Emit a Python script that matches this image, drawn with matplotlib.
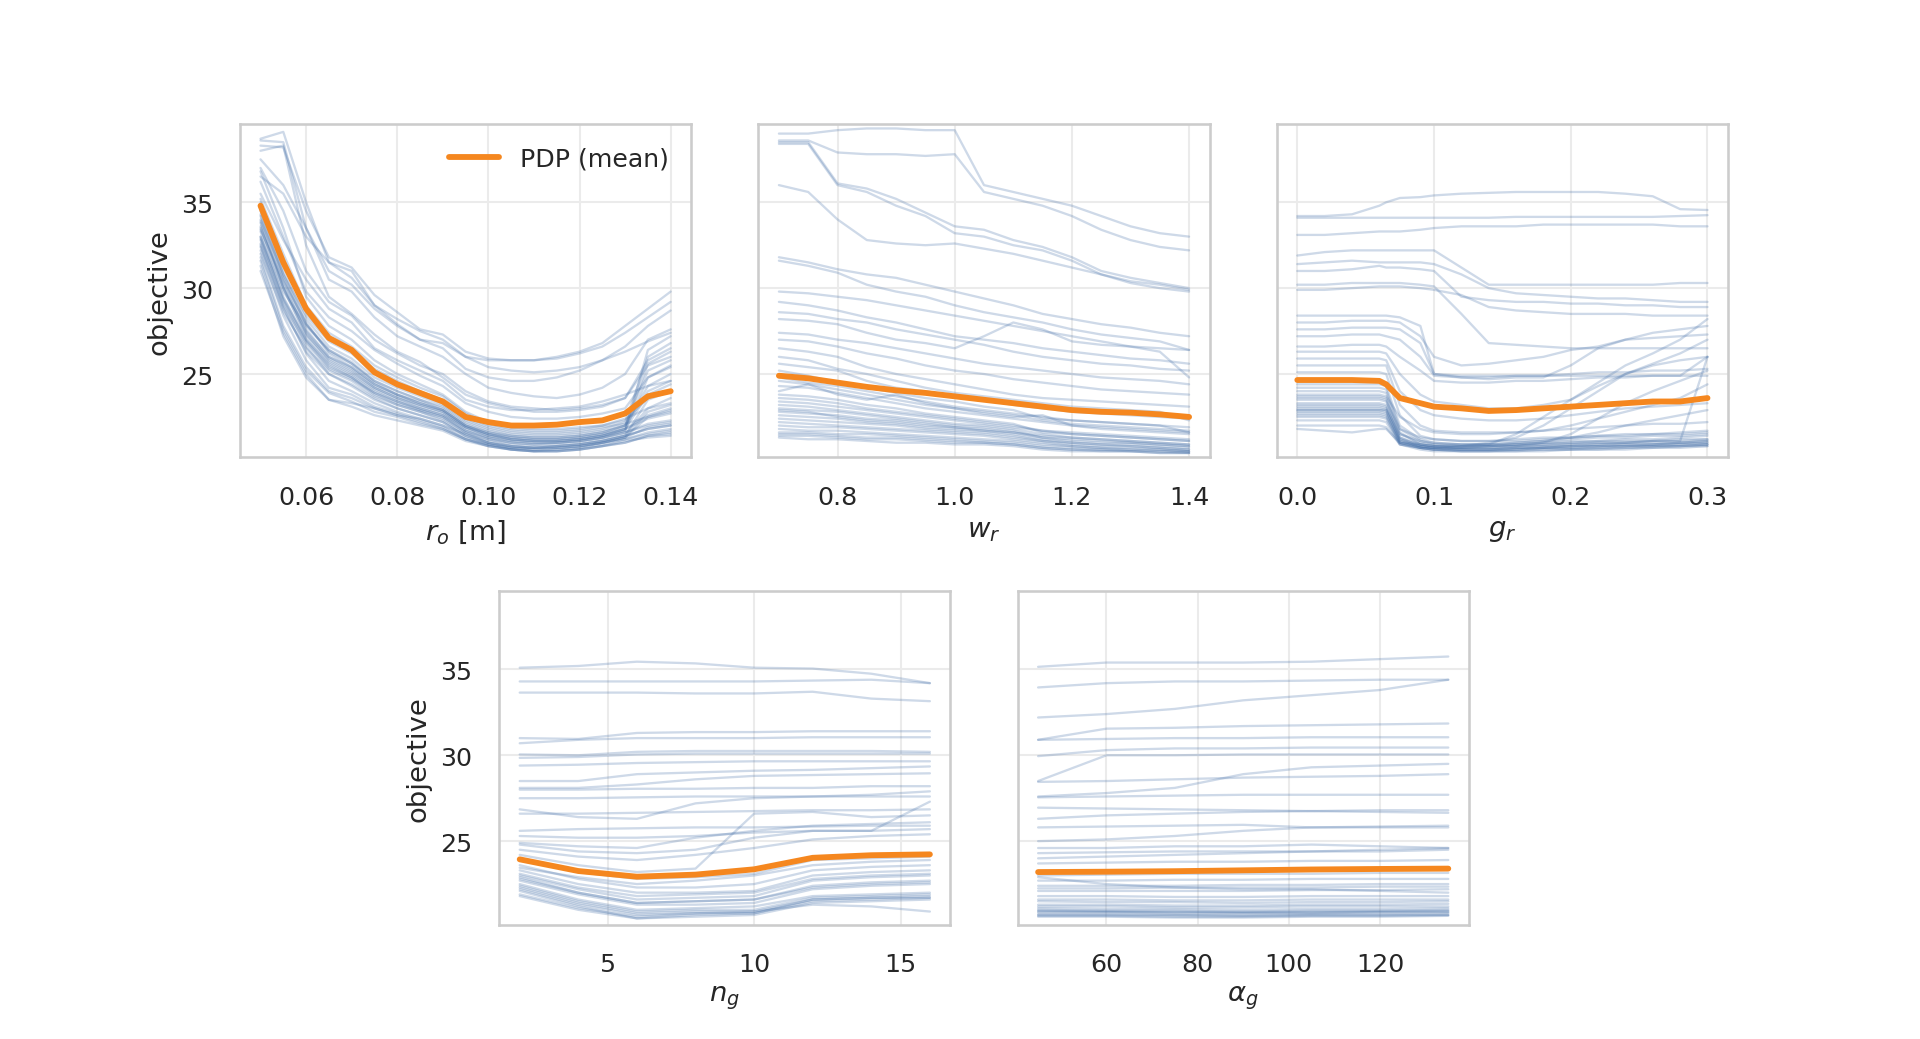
#!/usr/bin/env python3
"""ICE curves + PDP (mean) for five design parameters, shared objective axis."""

import matplotlib
matplotlib.use("Agg")
import matplotlib.pyplot as plt
import seaborn as sns

# --- r_o [m] -----------------------------------------------------------------
R_O_GRID = [0.050, 0.055, 0.060, 0.065, 0.070, 0.075, 0.080, 0.085, 0.090, 0.095,
            0.100, 0.105, 0.110, 0.115, 0.120, 0.125, 0.130, 0.135, 0.140]
R_O_PDP = [34.8, 31.5, 28.8, 27.1, 26.4, 25.1, 24.4, 23.9, 23.4, 22.5,
           22.2, 22.0, 22.0, 22.05, 22.2, 22.3, 22.7, 23.7, 24.0]
R_O_ICE = [
    [38.6, 38.5, 33.5, 30.5, 29.8, 28.3, 27.2, 26.6, 26.0, 25.0, 24.2, 23.9, 23.7, 23.6, 23.8, 24.2, 25.0, 27.0, 27.6],
    [38.3, 38.2, 34.5, 31.8, 31.2, 29.6, 28.6, 27.6, 27.3, 26.3, 25.9, 25.8, 25.8, 26.0, 26.3, 26.8, 27.8, 28.8, 29.8],
    [38.0, 38.3, 32.5, 29.5, 28.5, 27.3, 26.3, 25.7, 24.8, 23.8, 23.3, 23.0, 22.8, 22.8, 22.9, 23.1, 23.6, 25.8, 26.5],
    [38.7, 39.1, 35.0, 31.5, 30.6, 29.0, 27.9, 27.0, 26.5, 25.3, 24.8, 24.6, 24.6, 24.8, 25.2, 25.8, 26.6, 27.8, 28.7],
    [37.0, 34.5, 31.0, 29.2, 28.4, 27.0, 26.2, 25.5, 25.0, 24.0, 23.4, 23.1, 23.0, 22.9, 23.0, 23.2, 23.6, 25.5, 26.0],
    [36.2, 33.0, 29.8, 28.3, 27.5, 26.4, 25.6, 24.9, 24.3, 23.3, 22.8, 22.5, 22.4, 22.4, 22.5, 22.7, 23.0, 24.8, 25.4],
    [35.5, 32.8, 30.5, 28.8, 28.0, 26.5, 25.8, 25.2, 24.6, 23.5, 23.1, 22.9, 22.9, 23.0, 23.1, 23.4, 23.8, 24.3, 24.6],
    [36.8, 33.5, 29.5, 27.8, 27.0, 25.8, 25.0, 24.4, 23.8, 22.8, 22.2, 21.9, 21.8, 21.8, 21.9, 22.0, 22.3, 23.6, 24.0],
    [35.0, 31.5, 28.6, 27.0, 26.3, 25.3, 24.6, 24.0, 23.5, 22.5, 22.0, 21.7, 21.6, 21.6, 21.7, 21.9, 22.1, 22.5, 22.8],
    [34.2, 30.5, 27.6, 26.0, 25.3, 24.3, 23.7, 23.2, 22.8, 21.9, 21.4, 21.1, 21.0, 21.0, 21.1, 21.3, 21.6, 22.0, 22.2],
    [33.6, 30.0, 27.2, 25.7, 25.0, 24.1, 23.5, 23.0, 22.6, 21.7, 21.2, 20.9, 20.8, 20.8, 20.9, 21.1, 21.4, 23.5, 24.0],
    [33.0, 29.2, 26.6, 25.0, 24.4, 23.6, 23.0, 22.6, 22.2, 21.4, 20.9, 20.6, 20.5, 20.5, 20.6, 20.8, 21.0, 21.4, 21.6],
    [32.6, 28.9, 26.2, 24.6, 24.0, 23.3, 22.8, 22.4, 22.0, 21.3, 20.9, 20.7, 20.6, 20.7, 20.8, 21.0, 21.3, 22.8, 23.2],
    [32.2, 28.4, 25.8, 24.2, 23.8, 23.1, 22.7, 22.3, 21.9, 21.2, 20.8, 20.6, 20.5, 20.6, 20.7, 21.0, 21.2, 21.5, 21.7],
    [31.8, 27.8, 25.4, 24.0, 23.6, 23.0, 22.6, 22.2, 21.8, 21.2, 20.9, 20.7, 20.7, 20.8, 20.9, 21.1, 21.4, 21.8, 22.0],
    [33.3, 29.5, 27.0, 25.5, 24.8, 23.9, 23.4, 23.0, 22.6, 21.9, 21.5, 21.3, 21.2, 21.2, 21.3, 21.5, 21.9, 25.6, 26.3],
    [34.5, 31.0, 28.2, 26.6, 25.9, 24.8, 24.2, 23.7, 23.2, 22.3, 21.8, 21.5, 21.4, 21.4, 21.5, 21.7, 22.0, 24.3, 25.0],
    [32.0, 28.6, 26.5, 25.2, 24.6, 23.7, 23.2, 22.8, 22.4, 21.6, 21.2, 21.0, 20.9, 21.0, 21.1, 21.3, 21.6, 22.1, 22.3],
    [33.8, 30.2, 27.4, 25.8, 25.1, 24.2, 23.6, 23.1, 22.7, 21.8, 21.3, 21.1, 21.0, 21.0, 21.1, 21.3, 21.7, 26.4, 27.2],
    [31.3, 27.2, 24.8, 23.5, 23.1, 22.6, 22.3, 22.0, 21.7, 21.1, 20.8, 20.6, 20.5, 20.5, 20.6, 20.8, 21.1, 21.3, 21.4],
    [34.8, 30.8, 27.9, 26.4, 25.7, 24.6, 24.0, 23.5, 23.0, 22.1, 21.6, 21.3, 21.2, 21.2, 21.3, 21.5, 21.8, 22.4, 22.7],
    [36.5, 35.5, 33.0, 31.5, 31.0, 29.0, 28.2, 27.5, 27.0, 26.0, 25.4, 25.2, 25.1, 25.2, 25.4, 25.8, 26.3, 26.9, 27.4],
    [37.5, 36.0, 33.5, 31.0, 30.2, 28.8, 27.8, 27.0, 26.8, 26.0, 25.8, 25.8, 25.8, 25.9, 26.2, 26.6, 27.4, 28.3, 29.2],
    [31.0, 27.4, 25.0, 23.5, 23.3, 23.0, 22.6, 22.4, 22.0, 21.5, 21.1, 20.8, 20.7, 20.8, 20.9, 21.1, 21.4, 21.8, 22.0],
    [33.0, 29.8, 27.8, 26.4, 25.6, 24.5, 23.8, 23.3, 22.9, 22.0, 21.5, 21.2, 21.1, 21.1, 21.2, 21.4, 21.7, 24.8, 25.5],
    [32.4, 29.0, 26.8, 25.3, 24.7, 23.9, 23.3, 22.9, 22.5, 21.6, 21.0, 20.7, 20.6, 20.6, 20.7, 20.9, 21.2, 21.6, 21.8],
    [35.2, 32.0, 29.0, 27.4, 26.6, 25.5, 24.8, 24.2, 23.7, 22.7, 22.1, 21.8, 21.7, 21.7, 21.8, 22.0, 22.4, 23.0, 23.3],
    [34.0, 30.8, 28.4, 26.9, 26.2, 25.0, 24.4, 23.9, 23.4, 22.4, 21.9, 21.6, 21.5, 21.5, 21.6, 21.8, 22.2, 26.0, 26.8],
    [33.4, 30.4, 28.0, 26.2, 25.4, 24.4, 23.8, 23.3, 22.9, 22.0, 21.6, 21.4, 21.3, 21.3, 21.4, 21.6, 22.0, 24.0, 24.6],
    [32.8, 29.4, 27.0, 25.6, 24.9, 24.0, 23.4, 22.9, 22.5, 21.7, 21.3, 21.0, 20.9, 20.9, 21.0, 21.2, 21.5, 23.0, 23.6],
    [32.9, 29.3, 26.9, 25.4, 24.8, 23.8, 23.2, 22.8, 22.3, 21.5, 21.0, 20.8, 20.7, 20.7, 20.8, 21.0, 21.3, 22.5, 22.9],
    [33.5, 30.1, 27.5, 26.0, 25.4, 24.4, 23.8, 23.4, 22.9, 22.0, 21.5, 21.2, 21.1, 21.1, 21.2, 21.4, 21.8, 23.8, 24.4],
    [32.5, 28.8, 26.3, 25.0, 24.3, 23.5, 23.0, 22.6, 22.2, 21.4, 21.0, 20.8, 20.7, 20.7, 20.8, 21.0, 21.3, 21.9, 22.1],
    [34.3, 30.6, 27.9, 26.3, 25.6, 24.6, 24.0, 23.5, 23.1, 22.2, 21.7, 21.4, 21.3, 21.3, 21.4, 21.6, 22.0, 25.2, 25.8],
    [31.6, 27.6, 25.2, 23.9, 23.4, 22.8, 22.5, 22.1, 21.8, 21.2, 20.8, 20.6, 20.5, 20.5, 20.6, 20.8, 21.0, 21.4, 21.5],
    [33.9, 30.0, 27.3, 25.9, 25.2, 24.2, 23.6, 23.2, 22.8, 21.9, 21.4, 21.2, 21.1, 21.1, 21.2, 21.4, 21.8, 22.6, 23.0],
]

# --- w_r ---------------------------------------------------------------------
W_R_GRID = [0.70, 0.75, 0.80, 0.85, 0.90, 0.95, 1.00, 1.05, 1.10, 1.15, 1.20, 1.25, 1.30, 1.35, 1.40]
W_R_PDP = [24.9, 24.75, 24.5, 24.25, 24.05, 23.9, 23.7, 23.5, 23.3, 23.1, 22.9, 22.8, 22.75, 22.65, 22.5]
W_R_ICE = [
    [39.0, 39.0, 39.2, 39.3, 39.3, 39.2, 39.2, 36.0, 35.6, 35.2, 34.8, 34.2, 33.6, 33.2, 33.0],
    [38.6, 38.6, 37.9, 37.8, 37.8, 37.7, 37.8, 35.6, 35.2, 34.8, 34.2, 33.4, 32.8, 32.4, 32.2],
    [38.5, 38.5, 36.1, 35.8, 35.2, 34.4, 33.6, 33.4, 32.8, 32.4, 31.8, 31.0, 30.6, 30.3, 30.0],
    [38.4, 38.4, 36.0, 35.6, 34.8, 34.2, 33.2, 33.0, 32.5, 32.2, 31.6, 30.8, 30.3, 30.0, 29.8],
    [36.0, 35.6, 34.0, 32.8, 32.6, 32.5, 32.6, 32.3, 32.0, 31.6, 31.2, 30.8, 30.4, 30.2, 29.9],
    [31.8, 31.5, 31.1, 30.8, 30.6, 30.2, 29.8, 29.4, 29.0, 28.5, 28.2, 27.9, 27.7, 27.4, 27.2],
    [31.6, 31.3, 30.9, 30.2, 29.8, 29.5, 29.0, 28.6, 28.3, 28.0, 27.6, 27.3, 27.1, 26.9, 26.4],
    [29.8, 29.7, 29.5, 29.3, 29.0, 28.7, 28.4, 28.1, 27.8, 27.5, 27.2, 26.9, 26.6, 26.3, 24.8],
    [29.2, 29.0, 28.7, 28.3, 28.0, 27.6, 27.2, 27.0, 26.8, 26.5, 26.3, 26.1, 25.9, 25.8, 25.6],
    [28.6, 28.5, 28.2, 28.0, 27.6, 27.3, 27.0, 26.7, 26.3, 26.0, 25.8, 25.6, 25.5, 25.3, 25.2],
    [28.2, 28.1, 27.9, 27.4, 27.0, 26.8, 26.5, 27.2, 28.0, 27.6, 26.9, 26.7, 26.6, 26.5, 26.4],
    [27.4, 27.3, 27.0, 26.8, 26.5, 26.2, 25.9, 25.6, 25.4, 25.2, 25.0, 24.8, 24.7, 24.6, 24.4],
    [27.0, 26.9, 26.6, 26.2, 25.9, 25.5, 25.2, 25.0, 24.7, 24.5, 24.3, 24.1, 24.0, 23.9, 23.8],
    [26.5, 26.3, 26.0, 25.4, 25.0, 24.7, 24.4, 24.1, 23.8, 23.6, 23.5, 23.4, 23.3, 23.2, 23.1],
    [26.0, 25.8, 25.3, 25.0, 24.6, 24.2, 23.9, 23.7, 23.5, 23.3, 23.1, 23.0, 22.9, 22.8, 22.3],
    [25.6, 25.4, 25.2, 24.6, 24.2, 24.0, 23.7, 23.5, 23.2, 23.0, 22.8, 22.7, 22.6, 22.5, 22.4],
    [25.2, 24.9, 24.5, 24.2, 23.9, 23.6, 23.4, 23.1, 22.9, 22.4, 22.3, 22.2, 22.1, 22.0, 21.9],
    [24.8, 24.5, 24.3, 24.0, 23.7, 23.4, 23.1, 22.9, 22.7, 22.5, 22.3, 22.2, 22.1, 22.0, 21.6],
    [24.3, 24.2, 23.9, 23.6, 23.3, 23.0, 22.8, 22.6, 22.4, 22.2, 22.0, 21.9, 21.8, 21.7, 21.6],
    [23.8, 23.7, 23.5, 23.2, 23.0, 22.7, 22.5, 22.3, 22.1, 21.6, 21.5, 21.4, 21.3, 21.2, 21.1],
    [23.4, 23.3, 23.1, 22.9, 22.7, 22.5, 22.3, 22.1, 21.9, 21.7, 21.6, 21.5, 21.4, 21.3, 21.2],
    [23.0, 22.9, 22.8, 22.6, 22.4, 22.2, 22.0, 21.9, 21.7, 21.3, 21.1, 21.0, 21.0, 20.9, 20.8],
    [22.6, 22.5, 22.4, 22.2, 22.1, 21.9, 21.8, 21.7, 21.5, 21.2, 21.0, 20.9, 20.9, 20.8, 20.7],
    [22.2, 22.1, 22.0, 21.9, 21.8, 21.7, 21.6, 21.5, 21.3, 21.1, 20.9, 20.8, 20.8, 20.7, 20.6],
    [21.8, 21.7, 21.7, 21.6, 21.5, 21.4, 21.3, 21.2, 21.1, 20.9, 20.8, 20.7, 20.7, 20.6, 20.5],
    [21.5, 21.5, 21.4, 21.3, 21.3, 21.2, 21.1, 21.0, 20.9, 20.7, 20.6, 20.6, 20.5, 20.5, 20.4],
    [21.3, 21.2, 21.2, 21.1, 21.0, 21.0, 20.9, 20.9, 20.8, 20.6, 20.5, 20.5, 20.5, 20.4, 20.4],
    [24.0, 24.4, 23.8, 23.5, 23.8, 23.3, 23.0, 22.7, 22.5, 22.6, 22.0, 21.8, 21.7, 21.6, 21.5],
    [22.9, 22.8, 22.5, 22.3, 22.2, 22.0, 21.9, 21.7, 21.6, 21.4, 21.3, 21.2, 21.1, 21.0, 20.9],
    [22.0, 21.9, 21.9, 21.8, 21.7, 21.6, 21.5, 21.4, 21.2, 21.0, 20.8, 20.7, 20.6, 20.6, 20.5],
    [23.2, 23.1, 22.9, 22.7, 22.5, 22.3, 22.1, 22.0, 21.8, 21.5, 21.3, 21.2, 21.1, 21.0, 20.9],
    [23.6, 23.5, 23.3, 23.0, 22.8, 22.6, 22.4, 22.2, 22.0, 21.7, 21.5, 21.4, 21.3, 21.2, 21.1],
    [22.4, 22.3, 22.2, 22.1, 22.0, 21.8, 21.7, 21.6, 21.4, 21.1, 21.0, 20.9, 20.8, 20.7, 20.6],
    [21.6, 21.6, 21.5, 21.5, 21.4, 21.3, 21.2, 21.1, 21.0, 20.8, 20.7, 20.6, 20.6, 20.5, 20.5],
    [24.6, 24.4, 24.1, 23.8, 23.5, 23.2, 23.0, 22.8, 22.6, 22.3, 22.1, 22.0, 21.9, 21.8, 21.7],
    [22.8, 22.7, 22.6, 22.4, 22.3, 22.1, 21.9, 21.8, 21.6, 21.3, 21.2, 21.1, 21.0, 20.9, 20.8],
    [21.4, 21.4, 21.3, 21.2, 21.2, 21.1, 21.0, 21.0, 20.9, 20.7, 20.6, 20.5, 20.5, 20.4, 20.4],
]

# --- g_r ---------------------------------------------------------------------
G_R_GRID = [0.0, 0.02, 0.04, 0.06, 0.065, 0.075, 0.09, 0.10, 0.12, 0.14,
            0.16, 0.18, 0.20, 0.22, 0.24, 0.26, 0.28, 0.30]
G_R_PDP = [24.65, 24.65, 24.65, 24.6, 24.4, 23.6, 23.3, 23.1, 23.0, 22.85,
           22.9, 23.0, 23.1, 23.2, 23.3, 23.4, 23.4, 23.6]
G_R_ICE = [
    [34.2, 34.2, 34.3, 34.8, 35.0, 35.25, 35.3, 35.4, 35.5, 35.55, 35.6, 35.6, 35.6, 35.6, 35.5, 35.35, 34.6, 34.55],
    [34.1, 34.1, 34.1, 34.1, 34.1, 34.1, 34.1, 34.1, 34.1, 34.1, 34.15, 34.15, 34.15, 34.15, 34.15, 34.15, 34.2, 34.25],
    [33.1, 33.1, 33.2, 33.3, 33.3, 33.3, 33.4, 33.5, 33.6, 33.6, 33.6, 33.7, 33.7, 33.7, 33.7, 33.7, 33.6, 33.6],
    [31.9, 32.1, 32.2, 32.2, 32.2, 32.2, 32.2, 32.2, 31.2, 30.2, 30.2, 30.2, 30.2, 30.2, 30.2, 30.2, 30.3, 30.3],
    [31.4, 31.5, 31.6, 31.5, 31.5, 31.5, 31.5, 31.4, 30.8, 30.0, 29.7, 29.6, 29.5, 29.4, 29.4, 29.3, 29.2, 29.2],
    [31.0, 31.0, 31.1, 31.3, 31.2, 31.2, 31.1, 31.0, 29.5, 29.3, 29.2, 29.2, 29.1, 29.1, 29.0, 29.0, 28.9, 28.9],
    [30.2, 30.2, 30.3, 30.3, 30.3, 30.3, 30.2, 30.1, 28.5, 26.8, 26.7, 26.6, 26.5, 26.5, 26.5, 26.5, 26.5, 26.5],
    [29.9, 29.9, 30.0, 30.1, 30.1, 30.1, 30.0, 29.9, 29.6, 28.9, 28.7, 28.6, 28.5, 28.5, 28.5, 28.4, 28.4, 28.4],
    [28.4, 28.4, 28.4, 28.4, 28.4, 28.3, 27.8, 25.0, 24.9, 24.9, 24.9, 24.9, 24.9, 24.9, 24.9, 24.9, 24.9, 24.9],
    [28.0, 28.0, 28.1, 28.1, 28.1, 28.0, 27.2, 26.0, 25.5, 25.6, 25.8, 26.0, 26.4, 26.6, 27.0, 27.4, 27.6, 27.8],
    [27.6, 27.6, 27.7, 27.7, 27.7, 27.6, 26.8, 25.0, 24.8, 24.8, 24.9, 24.9, 25.0, 25.1, 25.1, 25.2, 25.2, 25.3],
    [27.2, 27.2, 27.3, 27.3, 27.2, 27.0, 26.0, 24.9, 24.8, 24.7, 24.8, 24.8, 25.5, 26.5, 27.0, 27.1, 27.2, 27.3],
    [26.6, 26.6, 26.7, 26.7, 26.6, 26.0, 25.2, 24.6, 24.5, 24.5, 24.6, 24.6, 24.7, 24.8, 24.8, 24.9, 24.9, 26.0],
    [26.3, 26.3, 26.3, 26.3, 26.2, 25.0, 23.8, 23.4, 23.2, 23.0, 23.0, 23.2, 23.5, 24.3, 25.0, 25.6, 26.2, 27.0],
    [25.9, 25.9, 25.9, 25.9, 25.8, 24.0, 22.9, 22.6, 22.4, 22.3, 22.3, 22.4, 22.6, 22.8, 23.0, 23.1, 23.2, 23.3],
    [25.5, 25.5, 25.5, 25.5, 25.5, 23.2, 22.0, 21.7, 21.6, 21.6, 21.6, 21.7, 21.8, 21.9, 22.0, 22.1, 22.1, 22.2],
    [25.1, 25.1, 25.1, 25.1, 25.0, 22.6, 21.4, 21.2, 21.1, 21.1, 21.1, 21.2, 21.3, 21.4, 21.5, 21.5, 21.6, 21.7],
    [24.4, 24.4, 24.4, 24.4, 24.3, 22.0, 21.2, 21.0, 20.9, 20.9, 21.0, 21.1, 21.2, 21.3, 21.3, 21.4, 21.4, 21.5],
    [24.0, 24.0, 24.0, 24.0, 23.9, 21.6, 20.9, 20.8, 20.8, 20.9, 21.5, 22.5, 23.5, 24.5, 25.5, 26.2, 27.0, 28.2],
    [23.6, 23.6, 23.6, 23.6, 23.5, 21.3, 20.8, 20.7, 20.6, 20.6, 20.7, 20.7, 20.8, 20.8, 20.9, 20.9, 21.0, 21.1],
    [23.3, 23.3, 23.3, 23.3, 23.2, 21.2, 20.7, 20.6, 20.5, 20.5, 20.6, 20.6, 20.6, 20.7, 20.7, 20.8, 20.8, 20.9],
    [23.0, 23.0, 23.0, 23.0, 22.9, 21.1, 20.8, 20.7, 20.7, 20.8, 20.8, 21.0, 21.5, 22.4, 23.3, 24.0, 24.6, 25.2],
    [22.8, 22.8, 22.8, 22.8, 22.7, 21.0, 20.7, 20.6, 20.5, 20.5, 20.5, 20.6, 20.6, 20.6, 20.7, 20.7, 20.8, 20.8],
    [22.6, 22.6, 22.6, 22.6, 22.5, 21.0, 20.8, 20.7, 20.7, 20.8, 20.9, 21.0, 21.1, 21.1, 21.2, 21.2, 21.3, 21.4],
    [22.3, 22.3, 22.3, 22.3, 22.2, 20.9, 20.7, 20.6, 20.6, 20.6, 20.6, 20.7, 20.7, 20.8, 20.8, 20.8, 20.9, 20.9],
    [22.0, 22.0, 22.0, 22.0, 21.9, 20.9, 20.7, 20.7, 20.8, 21.0, 21.3, 22.0, 23.0, 24.0, 25.0, 25.5, 25.8, 26.0],
    [21.8, 21.7, 21.6, 21.8, 21.8, 21.0, 20.9, 20.8, 20.8, 20.8, 20.9, 20.9, 21.0, 21.0, 21.0, 21.1, 21.1, 26.0],
    [23.8, 23.8, 23.8, 23.8, 23.7, 22.5, 21.8, 21.6, 21.5, 21.5, 21.6, 21.7, 22.0, 22.4, 22.8, 23.2, 23.6, 24.4],
    [23.1, 23.1, 23.1, 23.1, 23.0, 21.5, 21.1, 21.0, 20.9, 20.9, 20.9, 21.0, 21.0, 21.1, 21.1, 21.1, 21.2, 21.2],
    [22.9, 22.9, 22.9, 22.9, 22.8, 21.2, 20.9, 20.8, 20.7, 20.7, 20.7, 20.8, 20.8, 20.9, 20.9, 20.9, 21.0, 21.0],
    [23.5, 23.5, 23.5, 23.5, 23.4, 21.8, 21.3, 21.2, 21.1, 21.1, 21.2, 21.3, 21.3, 21.4, 21.4, 21.5, 21.5, 21.6],
    [23.7, 23.7, 23.7, 23.7, 23.6, 21.5, 21.0, 20.9, 20.8, 20.8, 20.8, 20.9, 20.9, 21.0, 21.0, 21.1, 21.1, 21.2],
    [22.7, 22.7, 22.7, 22.7, 22.6, 21.0, 20.7, 20.6, 20.6, 20.6, 20.6, 20.7, 20.7, 20.7, 20.8, 20.8, 20.8, 20.9],
    [23.2, 23.2, 23.2, 23.2, 23.1, 21.3, 20.9, 20.8, 20.7, 20.7, 20.8, 20.8, 20.9, 20.9, 21.0, 21.0, 21.0, 21.1],
    [22.5, 22.5, 22.5, 22.5, 22.4, 20.9, 20.6, 20.5, 20.5, 20.5, 20.5, 20.5, 20.6, 20.6, 20.6, 20.7, 20.7, 20.8],
    [24.2, 24.2, 24.2, 24.2, 24.1, 21.8, 21.1, 20.9, 20.9, 20.9, 21.0, 21.1, 21.3, 21.6, 22.0, 22.3, 22.6, 22.9],
    [22.9, 22.9, 22.9, 22.9, 22.9, 21.1, 20.8, 20.7, 20.6, 20.6, 20.7, 20.7, 20.8, 20.8, 20.8, 20.9, 20.9, 21.0],
]

# --- n_g ---------------------------------------------------------------------
N_G_GRID = [2, 4, 6, 8, 10, 12, 14, 16]
N_G_PDP = [23.94, 23.26, 22.93, 23.05, 23.36, 24.03, 24.18, 24.23]
N_G_ICE = [
    [35.1, 35.2, 35.45, 35.35, 35.1, 35.05, 34.75, 34.2],
    [34.3, 34.3, 34.3, 34.3, 34.3, 34.35, 34.4, 34.2],
    [33.65, 33.65, 33.65, 33.6, 33.6, 33.7, 33.3, 33.15],
    [31.0, 30.95, 31.3, 31.35, 31.35, 31.4, 31.4, 31.4],
    [30.7, 30.9, 31.0, 31.0, 31.0, 31.05, 31.05, 31.05],
    [30.05, 30.0, 30.2, 30.25, 30.25, 30.25, 30.25, 30.2],
    [29.85, 29.9, 30.05, 30.1, 30.1, 30.1, 30.1, 30.1],
    [29.4, 29.45, 29.55, 29.6, 29.65, 29.65, 29.65, 29.65],
    [28.5, 28.5, 28.9, 29.0, 29.1, 29.15, 29.25, 29.35],
    [28.1, 28.1, 28.3, 28.6, 28.8, 28.85, 28.9, 28.95],
    [28.0, 28.0, 28.05, 28.05, 28.1, 28.1, 28.2, 28.2],
    [27.5, 27.5, 27.55, 27.6, 27.6, 27.6, 27.6, 27.6],
    [26.85, 26.4, 26.3, 27.2, 27.5, 27.6, 27.7, 27.9],
    [26.6, 26.6, 26.65, 26.7, 26.75, 26.8, 26.8, 26.85],
    [25.6, 25.7, 25.75, 25.8, 25.8, 25.85, 25.9, 25.9],
    [25.3, 25.2, 25.2, 25.3, 25.5, 25.6, 25.6, 27.3],
    [24.8, 24.4, 24.3, 24.5, 25.2, 25.6, 25.6, 25.7],
    [24.5, 24.1, 23.9, 24.2, 24.6, 25.1, 25.3, 25.4],
    [24.2, 23.6, 23.2, 23.4, 26.6, 26.7, 26.4, 26.5],
    [23.9, 23.2, 22.8, 22.9, 23.1, 23.9, 24.0, 24.1],
    [23.6, 22.8, 22.3, 22.3, 22.5, 23.3, 23.5, 23.6],
    [23.3, 22.5, 22.0, 22.0, 22.1, 23.0, 23.2, 23.3],
    [23.0, 22.2, 21.6, 21.7, 21.8, 22.7, 22.9, 23.0],
    [22.7, 21.9, 21.3, 21.3, 21.4, 22.2, 22.4, 22.5],
    [22.5, 21.6, 21.0, 21.1, 21.2, 21.8, 21.9, 22.0],
    [22.3, 21.4, 20.8, 20.9, 20.9, 21.6, 21.7, 21.8],
    [22.1, 21.2, 20.5, 20.7, 20.8, 21.5, 21.6, 21.7],
    [21.9, 21.1, 20.6, 20.8, 20.9, 21.3, 21.2, 20.9],
    [24.9, 24.7, 24.6, 25.2, 25.6, 25.9, 26.0, 26.1],
    [23.45, 22.9, 22.5, 22.7, 23.0, 23.6, 23.8, 23.9],
    [22.9, 22.0, 21.4, 21.5, 21.6, 22.4, 22.6, 22.7],
    [22.2, 21.3, 20.7, 20.8, 20.8, 21.6, 21.7, 21.7],
    [22.4, 21.5, 20.9, 21.0, 21.0, 21.7, 21.8, 21.9],
    [22.8, 22.0, 21.4, 21.5, 21.6, 22.3, 22.5, 22.6],
    [23.1, 22.3, 21.8, 21.9, 22.0, 22.8, 23.0, 23.1],
    [21.8, 21.0, 20.5, 20.6, 20.7, 21.4, 21.5, 21.6],
]

# --- alpha_g -----------------------------------------------------------------
A_G_GRID = [45, 60, 75, 90, 105, 120, 135]
A_G_PDP = [23.2, 23.22, 23.25, 23.3, 23.35, 23.38, 23.4]
A_G_ICE = [
    [35.15, 35.4, 35.4, 35.4, 35.45, 35.6, 35.75],
    [33.95, 34.2, 34.3, 34.3, 34.35, 34.4, 34.4],
    [32.2, 32.4, 32.7, 33.2, 33.5, 33.8, 34.4],
    [30.9, 31.55, 31.6, 31.7, 31.75, 31.8, 31.85],
    [30.9, 30.95, 31.0, 31.0, 31.05, 31.05, 31.05],
    [29.95, 30.3, 30.4, 30.4, 30.45, 30.45, 30.45],
    [28.5, 30.0, 30.0, 30.05, 30.05, 30.05, 30.05],
    [28.45, 28.5, 28.6, 28.7, 28.75, 28.8, 28.9],
    [27.6, 27.8, 28.1, 28.9, 29.3, 29.4, 29.5],
    [27.55, 27.6, 27.65, 27.7, 27.7, 27.7, 27.7],
    [26.95, 26.9, 26.85, 26.8, 26.75, 26.7, 26.65],
    [26.3, 26.5, 26.6, 26.7, 26.75, 26.8, 26.8],
    [25.8, 25.85, 25.9, 25.95, 25.8, 25.8, 25.8],
    [25.0, 25.1, 25.3, 25.6, 25.8, 25.85, 25.9],
    [24.6, 24.6, 24.7, 24.7, 24.8, 24.7, 24.6],
    [24.3, 24.35, 24.4, 24.4, 24.4, 24.4, 24.5],
    [24.0, 24.1, 24.2, 24.3, 24.4, 24.5, 24.6],
    [23.7, 23.75, 23.8, 23.8, 23.85, 23.85, 23.9],
    [23.0, 23.05, 23.1, 23.1, 23.1, 23.15, 23.15],
    [22.7, 22.7, 22.75, 22.75, 22.8, 22.8, 22.8],
    [22.4, 22.4, 22.4, 22.45, 22.45, 22.5, 22.5],
    [22.1, 22.1, 22.1, 22.1, 22.15, 22.15, 22.2],
    [21.8, 21.8, 21.75, 21.75, 21.8, 21.8, 21.8],
    [21.5, 21.45, 21.45, 21.4, 21.45, 21.45, 21.5],
    [21.2, 21.2, 21.15, 21.15, 21.2, 21.2, 21.2],
    [21.0, 20.95, 20.95, 20.9, 20.95, 20.95, 21.0],
    [20.85, 20.85, 20.8, 20.8, 20.8, 20.85, 20.85],
    [20.7, 20.7, 20.7, 20.65, 20.7, 20.7, 20.7],
    [20.6, 20.6, 20.55, 20.55, 20.6, 20.6, 20.65],
    [22.9, 22.5, 22.3, 22.2, 22.2, 22.1, 22.0],
    [21.1, 21.05, 21.05, 21.0, 21.05, 21.05, 21.1],
    [20.9, 20.9, 20.85, 20.85, 20.85, 20.9, 20.9],
    [20.75, 20.75, 20.7, 20.7, 20.75, 20.75, 20.8],
    [20.65, 20.65, 20.6, 20.6, 20.65, 20.65, 20.7],
    [21.3, 21.3, 21.25, 21.25, 21.3, 21.3, 21.35],
    [20.95, 20.9, 20.9, 20.85, 20.9, 20.9, 20.95],
    [21.6, 21.6, 21.55, 21.55, 21.6, 21.6, 21.6],
    [22.25, 22.25, 22.3, 22.3, 22.3, 22.35, 22.35],
]

X_LABELS = [r"$r_o$ [m]", r"$w_r$", r"$g_r$", r"$n_g$", r"$\alpha_g$"]
Y_LABEL = "objective"
Y_RANGE = (20.14, 39.57)

ICE_COLOR = "#4a74ab"
PDP_COLOR = "#f5871f"


def main() -> None:
    sns.set_theme(style="whitegrid", context="notebook", font_scale=1.1)
    fig = plt.figure(figsize=(12.8, 6.9333), dpi=150)
    gs = fig.add_gridspec(2, 6, left=0.125, right=0.9, top=0.88, bottom=0.11,
                          wspace=0.35, hspace=0.4)
    slots = [gs[0, 0:2], gs[0, 2:4], gs[0, 4:6], gs[1, 1:3], gs[1, 3:5]]
    panels = [
        (R_O_GRID, R_O_ICE, R_O_PDP),
        (W_R_GRID, W_R_ICE, W_R_PDP),
        (G_R_GRID, G_R_ICE, G_R_PDP),
        (N_G_GRID, N_G_ICE, N_G_PDP),
        (A_G_GRID, A_G_ICE, A_G_PDP),
    ]

    first = None
    for i, (slot, (grid, ice, pdp), xlabel) in enumerate(zip(slots, panels, X_LABELS)):
        ax = fig.add_subplot(slot, sharey=first)
        if first is None:
            first = ax
        for curve in ice:
            ax.plot(grid, curve, color=ICE_COLOR, lw=1.1, alpha=0.27)
        ax.plot(grid, pdp, color=PDP_COLOR, lw=2.8, label="PDP (mean)")
        ax.grid(color="#ebebeb", linewidth=1.0)
        ax.tick_params(axis="x", pad=7.0)
        ax.tick_params(axis="y", pad=6.8)
        ax.set_xlabel(xlabel)
        if i in (0, 3):
            ax.set_ylabel(Y_LABEL)
        else:
            ax.tick_params(labelleft=False)
        if i == 0:
            ax.legend(loc="upper right", frameon=False)

    first.set_ylim(*Y_RANGE)
    fig.savefig("out.png", dpi=150)


if __name__ == "__main__":
    main()
